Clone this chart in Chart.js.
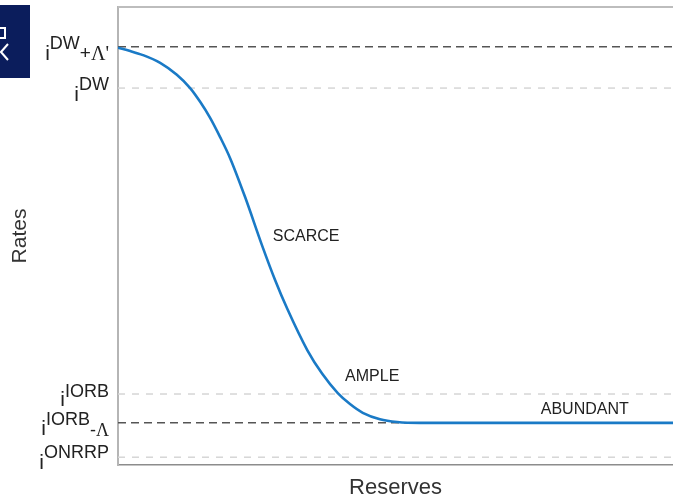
<!doctype html>
<html lang="en">
<head>
  <meta charset="utf-8">
  <title>Reserves and Rates</title>
  <script src="https://cdn.jsdelivr.net/npm/chart.js"></script>
  <style>
    html, body { margin: 0; padding: 0; background: #fff; }
    #wrap { width: 673px; height: 499px; position: relative; }
  </style>
</head>
<body>

<div id="wrap">
  <canvas id="myChart"></canvas>
</div>

<script>
  // demand curve for reserves (x: reserves, y: rate)
  const reserves = [0, 2.2, 4.5, 7.6, 10.6, 13.0, 14.8, 16.6, 18.4, 20.2, 22.9, 26.0, 28.3, 30.5,
                    34.1, 36.8, 39.6, 41.8, 44.1, 47.2, 50.3, 54.4, 58.0, 100];
  const rates    = [91.1, 90.4, 89.5, 87.8, 85.2, 82.3, 79.3, 75.8, 71.6, 67.0, 58.5, 47.8, 40.4, 34.1,
                    25.1, 19.9, 15.7, 13.3, 11.4, 10.0, 9.4, 9.2, 9.2, 9.2];

  // administered rate levels, top to bottom
  const levelNames  = ['DW+L', 'DW', 'IORB', 'IORB-L', 'ONRRP'];
  const levelValues = [91.3, 82.3, 15.5, 9.2, 1.7];
  const levelDark   = [true, false, false, true, false];

  // regime labels
  const regimeNames = ['SCARCE', 'AMPLE', 'ABUNDANT'];
  const regimeX     = [33.9, 45.8, 84.1];
  const regimeY     = [49.8, 19.2, 12.2];

  const sans = '"Liberation Sans", Arial, sans-serif';
  const serif = '"Liberation Serif", "Times New Roman", serif';

  // label pieces for each level: [text, size, baseline offset, serif?]
  const levelParts = {
    'DW+L':   [['i', 21, 13], ['DW', 18, 2], ['+', 19, 12], ['\u039B\'', 20, 13, true]],
    'DW':     [['i', 21, 13], ['DW', 18, 2]],
    'IORB':   [['i', 21, 12], ['IORB', 18, 3]],
    'IORB-L': [['i', 21, 12], ['IORB', 18, 2], ['-', 18, 13], ['\u039B', 18, 13, true]],
    'ONRRP':  [['i', 21, 12], ['ONRRP', 18, 1]]
  };

  var datasets = [];
  levelValues.forEach(function (v, i) {
    datasets.push({
      label: levelNames[i],
      data: [{x: 0, y: v}, {x: 100, y: v}],
      borderColor: levelDark[i] ? '#555555' : '#d6d6d6',
      borderWidth: 1.5,
      borderDash: levelDark[i] ? [8, 5] : [7, 7],
      pointRadius: 0,
      order: 2
    });
  });
  datasets.push({
    label: 'Demand',
    data: reserves.map(function (x, i) { return {x: x, y: rates[i]}; }),
    borderColor: '#1a7ac6',
    borderWidth: 2.6,
    pointRadius: 0,
    cubicInterpolationMode: 'monotone',
    order: 1
  });

  const labelPlugin = {
    id: 'labels',
    afterDraw: function (chart) {
      var ctx = chart.ctx;
      var xs = chart.scales.x, ys = chart.scales.y;
      var area = chart.chartArea;
      ctx.save();

      // top frame line
      ctx.strokeStyle = '#bdbdbd';
      ctx.lineWidth = 2;
      ctx.beginPath();
      ctx.moveTo(area.left, area.top);
      ctx.lineTo(area.right, area.top);
      ctx.stroke();

      // rate labels, right aligned next to the axis
      ctx.fillStyle = '#222';
      ctx.textBaseline = 'alphabetic';
      ctx.textAlign = 'left';
      levelNames.forEach(function (name, i) {
        var y = ys.getPixelForValue(levelValues[i]);
        var parts = levelParts[name];
        var widths = parts.map(function (p) {
          ctx.font = p[1] + 'px ' + (p[3] ? serif : sans);
          return ctx.measureText(p[0]).width;
        });
        var total = widths.reduce(function (a, b) { return a + b; }, 0);
        var x = 109 - total;
        parts.forEach(function (p, j) {
          ctx.font = p[1] + 'px ' + (p[3] ? serif : sans);
          ctx.fillText(p[0], x, y + p[2]);
          x += widths[j];
        });
      });

      // regime labels
      ctx.font = '16px ' + sans;
      ctx.textAlign = 'center';
      ctx.textBaseline = 'middle';
      regimeNames.forEach(function (name, i) {
        ctx.fillText(name, xs.getPixelForValue(regimeX[i]), ys.getPixelForValue(regimeY[i]));
      });

      // cropped logo box in the corner
      ctx.fillStyle = '#0b1d5c';
      ctx.fillRect(0, 5, 30, 73);
      ctx.strokeStyle = '#ffffff';
      ctx.lineWidth = 2;
      ctx.strokeRect(-6, 28, 11, 10);
      ctx.beginPath();
      ctx.moveTo(8, 44);
      ctx.lineTo(1, 52);
      ctx.lineTo(8, 60);
      ctx.stroke();
      ctx.restore();
    }
  };

  window.onload = function () {
    var ctx = document.getElementById('myChart').getContext('2d');
    new Chart(ctx, {
      type: 'line',
      data: { datasets: datasets },
      plugins: [labelPlugin],
      options: {
        responsive: true,
        maintainAspectRatio: false,
        animation: false,
        layout: { padding: { top: 7, right: 0, bottom: 0, left: 0 } },
        plugins: {
          legend: { display: false },
          tooltip: { enabled: false }
        },
        scales: {
          x: {
            type: 'linear',
            min: 0,
            max: 100,
            grid: { display: false, drawTicks: false },
            ticks: { display: false },
            border: { display: true, color: '#8c8c8c', width: 1.5 },
            title: {
              display: true,
              text: 'Reserves',
              color: '#333',
              font: { family: sans, size: 22, lineHeight: 1 },
              padding: { top: 0, bottom: 0 }
            },
            afterFit: function (scale) { scale.height = 34; }
          },
          y: {
            type: 'linear',
            min: 0,
            max: 100,
            grid: { display: false, drawTicks: false },
            ticks: { display: false },
            border: { display: true, color: '#b5b5b5', width: 2 },
            title: {
              display: true,
              text: 'Rates',
              color: '#333',
              font: { family: sans, size: 21, lineHeight: 1 },
              padding: { top: 10, bottom: 0 }
            },
            afterFit: function (scale) { scale.width = 118; }
          }
        }
      }
    });
  };
</script>
</body>
</html>
